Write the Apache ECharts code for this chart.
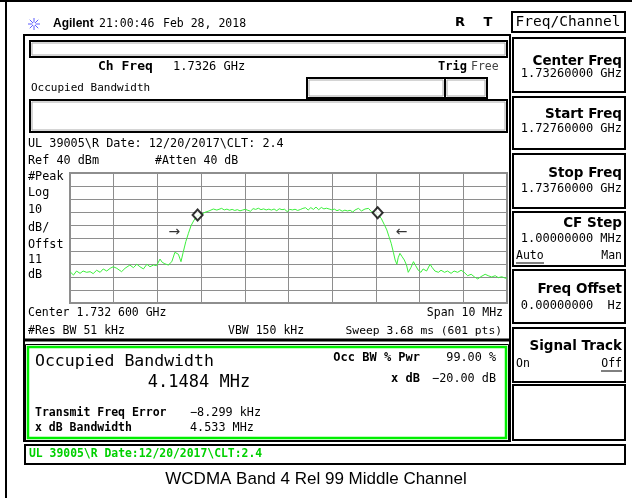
<!DOCTYPE html>
<html>
<head>
<meta charset="utf-8">
<script src="https://cdn.jsdelivr.net/npm/echarts@6/dist/echarts.min.js"></script>
<style>
  html, body { margin: 0; background: #fff; }
  #chart { width: 632px; height: 498px; }
</style>
</head>
<body>
<div id="chart"></div>
<script>
/* ---- trace: [offset from centre (MHz), level (dBm)] ---- */
const trace = [
  [-5.00,-35.9],[-4.92,-38.5],[-4.85,-35.4],[-4.77,-37.2],[-4.70,-35.4],[-4.62,-36.4],[-4.54,-35.9],
  [-4.47,-37.4],[-4.39,-34.8],[-4.31,-36.4],[-4.24,-33.8],[-4.16,-35.4],[-4.08,-33.3],[-4.01,-32.1],
  [-3.93,-33.3],[-3.82,-35.9],[-3.74,-33.3],[-3.63,-30.8],[-3.55,-32.8],[-3.47,-30.2],[-3.40,-32.1],
  [-3.32,-33.8],[-3.24,-30.2],[-3.17,-32.1],[-3.09,-30.8],[-3.02,-31.3],[-2.94,-26.2],[-2.89,-28.7],
  [-2.83,-29.8],[-2.75,-30.8],[-2.67,-28.2],[-2.60,-21.0],[-2.52,-22.5],[-2.46,-28.2],[-2.41,-21.0],
  [-2.35,-12.8],[-2.29,-6.4],[-2.23,-0.5],[-2.16,3.8],[-2.08,7.2],[-1.99,8.2],[-1.91,9.8],
  [-1.82,10.8],[-1.72,12.3],[-1.64,11.5],
  [-1.53,12.8],[-1.47,11.6],[-1.41,12.2],[-1.35,11.4],[-1.29,12.0],[-1.23,11.2],[-1.17,11.8],
  [-1.11,10.9],[-1.05,11.5],[-0.99,12.1],[-0.93,11.3],[-0.87,10.6],[-0.81,12.6],[-0.75,12.0],
  [-0.69,12.9],[-0.63,11.8],[-0.57,12.4],[-0.51,11.6],[-0.45,12.2],[-0.39,11.5],[-0.33,12.3],
  [-0.27,11.0],[-0.21,12.5],[-0.15,11.8],[-0.09,12.1],[-0.03,10.3],[0.03,12.0],[0.09,11.6],
  [0.15,12.1],[0.21,11.2],[0.27,11.9],[0.33,12.8],[0.39,13.3],[0.45,11.5],[0.51,13.4],
  [0.57,12.0],[0.63,13.8],[0.69,11.7],[0.75,13.5],[0.81,12.4],[0.87,12.9],[0.93,12.3],
  [0.99,11.7],[1.05,12.2],[1.11,11.0],[1.17,11.8],[1.23,10.6],[1.29,11.4],[1.35,10.8],
  [1.41,11.3],[1.47,10.0],
  [1.52,11.5],[1.60,12.8],[1.67,10.8],[1.75,12.3],[1.83,12.8],[1.90,10.2],[1.96,9.8],
  [2.04,8.2],[2.12,5.2],[2.19,0.5],[2.25,-3.8],[2.30,-9.0],[2.35,-14.1],[2.40,-21.0],
  [2.44,-26.9],[2.48,-30.2],[2.51,-25.2],[2.55,-21.8],[2.60,-24.4],[2.65,-26.9],[2.70,-30.8],
  [2.74,-36.4],[2.80,-32.8],[2.86,-28.2],[2.91,-31.3],[2.97,-34.8],[3.03,-36.4],[3.08,-33.8],
  [3.16,-35.4],[3.24,-30.2],[3.29,-32.8],[3.35,-35.4],[3.43,-36.4],[3.49,-34.8],[3.57,-36.4],
  [3.64,-35.4],[3.72,-37.2],[3.79,-35.4],[3.87,-36.4],[3.95,-34.8],[4.02,-36.4],[4.10,-39.0],
  [4.18,-37.9],[4.25,-39.8],[4.33,-41.5],[4.40,-39.8],[4.50,-37.9],[4.57,-39.0],[4.65,-40.0],
  [4.73,-39.0],[4.80,-40.5],[4.88,-39.8],[4.97,-41.0],[5.00,-40.5]
];
const xdbMarkers = [[-2.08, 7.7], [2.04, 9.5]];
const obwArrows = [[-2.61, -5.6, "→"], [2.59, -5.6, "←"]];

/* ---- screen texts ---- */
const scaleLabels = ["#Peak", "Log", "10", "dB/", "Offst", "11", "dB"];
const softkeys = [
  { title: "Center Freq", value: "1.73260000 GHz" },
  { title: "Start Freq", value: "1.72760000 GHz" },
  { title: "Stop Freq", value: "1.73760000 GHz" },
  { title: "CF Step", value: "1.00000000 MHz", left: "Auto", right: "Man" },
  { title: "Freq Offset", value: "0.00000000  Hz" },
  { title: "Signal Track", left: "On", right: "Off" },
  { title: "" }
];
const results = {
  title: "Occupied Bandwidth", obw: "4.1484 MHz",
  rows: [["Transmit Freq Error", "−8.299 kHz"], ["x dB Bandwidth", "4.533 MHz"]],
  right: [["Occ BW % Pwr", "99.00 %"], ["x dB", "−20.00 dB"]]
};
const statusLine = "UL 39005\\R Date:12/20/2017\\CLT:2.4";
const caption = "WCDMA Band 4 Rel 99 Middle Channel";

/* ---- graphic helpers ---- */
const MONO = '"DejaVu Sans Mono", monospace';
const SANS = '"DejaVu Sans", sans-serif';
const ARIAL = '"Liberation Sans", Arial, sans-serif';
function T(x, y, s, size, o = {}) {
  const a = o.align || "left";
  return {
    type: "text", x, y, silent: true, z: 10,
    style: {
      text: s, fill: o.fill || "#000",
      font: `${o.bold ? "bold " : ""}${size}px ${o.family || MONO}`,
      align: a, verticalAlign: "middle", textAlign: a, textVerticalAlign: "middle"
    }
  };
}
function R(x, y, w, h, stroke = "#000", lw = 2) {
  return { type: "rect", silent: true, shape: { x, y, width: w, height: h },
    style: { fill: "none", stroke, lineWidth: lw } };
}
function L(x1, y1, x2, y2, stroke = "#000", lw = 1) {
  return { type: "line", silent: true, shape: { x1, y1, x2, y2 }, style: { stroke, lineWidth: lw } };
}
function box(x, y, w, h) {
  return [R(x, y, w, h, "#000", 2), R(x + 2, y + 2, w - 4, h - 4, "#aaa", 1)];
}

const g = [];
// outer photo frame
g.push(L(0, 1, 632, 1, "#000", 2), L(6, 0, 6, 498, "#000", 2));
// logo spark
for (let k = 0; k < 8; k++) {
  const a = k * Math.PI / 4;
  g.push(L(34 + Math.cos(a) * 1.5, 24 + Math.sin(a) * 1.5, 34 + Math.cos(a) * 6, 24 + Math.sin(a) * 6, "#5b5bff", 1));
}
g.push(T(53, 24, "Agilent", 12, { bold: true, family: ARIAL }));
g.push(T(99, 24, "21:00:46", 11.5), T(163, 24, "Feb 28, 2018", 11.5));
g.push(T(460, 23, "R", 13, { bold: true, family: SANS, align: "center" }),
       T(488, 23, "T", 13, { bold: true, family: SANS, align: "center" }));

// main measurement frame
g.push(R(24, 35, 486, 406, "#000", 2));
g.push(...box(30, 41, 477, 16));
g.push(T(98, 67, "Ch Freq", 13, { bold: true }), T(173, 67, "1.7326 GHz", 12));
g.push(T(438, 67, "Trig", 12, { bold: true }), T(471, 67, "Free", 11.5, { fill: "#444" }));
g.push(T(31, 88, "Occupied Bandwidth", 11));
g.push(...box(307, 78, 138, 20), ...box(445, 78, 42, 20));
g.push(...box(30, 100, 477, 32));
g.push(T(28, 144, "UL 39005\\R Date: 12/20/2017\\CLT: 2.4", 11.8));
g.push(T(28, 161, "Ref 40 dBm", 11.8), T(155, 161, "#Atten 40 dB", 11.5));
const labelY = [177, 193, 210, 228, 245, 260, 275];
scaleLabels.forEach((s, i) => g.push(T(28, labelY[i], s, 11.8)));
g.push(T(28, 313, "Center 1.732 600 GHz", 11.5), T(503, 313, "Span 10 MHz", 11.5, { align: "right" }));
g.push(T(28, 331, "#Res BW 51 kHz", 11.5), T(228, 331, "VBW 150 kHz", 11.5),
       T(502, 331, "Sweep 3.68 ms (601 pts)", 11.3, { align: "right" }));
g.push(L(24, 340, 510, 340, "#000", 3));

// results panel
g.push(R(25.5, 344.5, 483, 96, "#000", 1), R(28, 347, 478, 91, "#00ee00", 2.5));
g.push(T(35, 362, results.title, 16.5), T(199, 383, results.obw, 17, { align: "center" }));
results.rows.forEach((r, i) => {
  g.push(T(35, 413 + i * 15, r[0], 11.5, { bold: true }), T(190, 413 + i * 15, r[1], 11.8));
});
results.right.forEach((r, i) => {
  g.push(T(420, 358 + i * 21, r[0], 12, { bold: true, align: "right" }),
         T(496, 358 + i * 21, r[1], 11.8, { align: "right" }));
});

// status line
g.push(R(25, 445, 600, 19, "#000", 2));
g.push(T(29, 454, statusLine, 11.4, { bold: true, fill: "#00d000" }));

// softkey column
g.push(R(512, 12, 113, 20, "#000", 2), T(568, 22, "Freq/Channel", 14.5, { align: "center" }));
const skTop = [38, 97, 154, 212, 270, 328, 385];
const skH = [54, 52, 54, 54, 53, 54, 55];
const skTitleDy = [23, 17, 19, 11, 19, 18, 0];
const skValDy = [36, 32, 35, 27, 36, 0, 0];
softkeys.forEach((k, i) => {
  const y0 = skTop[i];
  g.push(R(513, y0, 112, skH[i], "#000", 2));
  if (k.title) g.push(T(622, y0 + skTitleDy[i], k.title, 13.5, { bold: true, family: SANS, align: "right" }));
  if (k.value) g.push(T(622, y0 + skValDy[i], k.value, 12, { align: "right" }));
  if (k.left) {
    const sy = k.value ? y0 + 44 : y0 + 36;
    g.push(T(516, sy, k.left, 11.5), T(622, sy, k.right, 11.5, { align: "right" }));
    // the active choice is underlined
    if (k.left === "Auto") g.push(L(516, sy + 7, 544, sy + 7, "#000", 1));
    else g.push(L(601, sy + 7, 622, sy + 7, "#000", 1));
  }
});

g.push(T(316, 479, caption, 17, { family: ARIAL, align: "center" }));

/* ---- chart ---- */
const chart = echarts.init(document.getElementById("chart"), null, { renderer: "canvas" });
const gridLine = { show: true, lineStyle: { color: "#8e8e8e", width: 1 } };
chart.setOption({
  animation: false,
  backgroundColor: "#fff",
  grid: { left: 70, top: 173, width: 437, height: 130, show: true, borderColor: "#8e8e8e", borderWidth: 2 },
  xAxis: { type: "value", min: -5, max: 5, interval: 1, axisLabel: { show: false },
    axisTick: { show: false }, axisLine: { show: false }, splitLine: gridLine },
  yAxis: { type: "value", min: -60, max: 40, interval: 10, axisLabel: { show: false },
    axisTick: { show: false }, axisLine: { show: false }, splitLine: gridLine },
  graphic: g,
  series: [
    { type: "line", data: trace, showSymbol: false, symbol: "none",
      lineStyle: { color: "#3cf03c", width: 1 }, z: 3 },
    { type: "scatter", data: xdbMarkers, symbol: "diamond", symbolSize: [10, 11],
      itemStyle: { color: "#fff", borderColor: "#000", borderWidth: 2 }, z: 5 },
    { type: "scatter", symbolSize: 0, z: 6,
      data: obwArrows.map(a => ({ value: [a[0], a[1]], label: { formatter: a[2] } })),
      label: { show: true, position: "inside", color: "#000", fontSize: 14, fontFamily: SANS } }
  ]
});
</script>
</body>
</html>
